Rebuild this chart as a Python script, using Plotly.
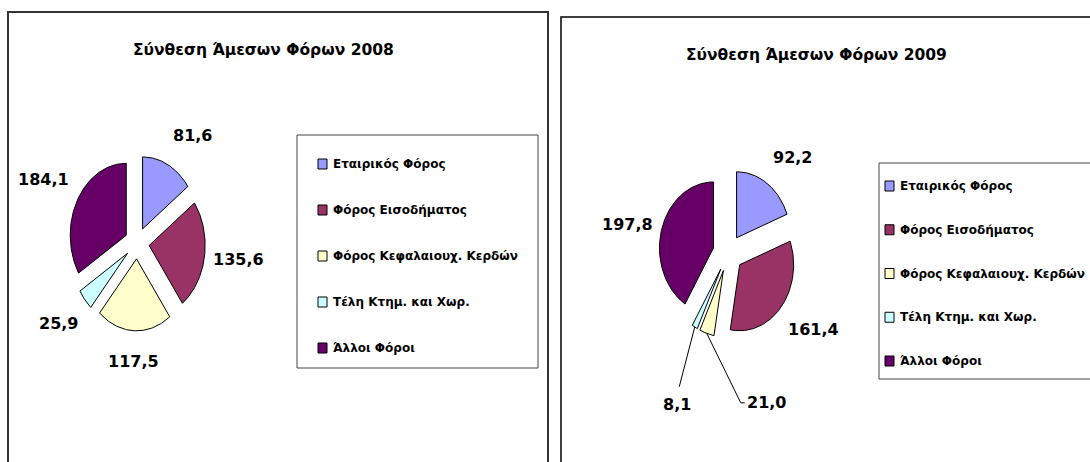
import numpy as np
import plotly.graph_objects as go

# ---------------- data ----------------
categories = ["Εταιρικός Φόρος", "Φόρος Εισοδήματος", "Φόρος Κεφαλαιουχ. Κερδών",
              "Τέλη Κτημ. και Χωρ.", "Άλλοι Φόροι"]
values_2008 = [81.6, 135.6, 117.5, 25.9, 184.1]
values_2009 = [92.2, 161.4, 21.0, 8.1, 197.8]
titles = ["Σύνθεση Άμεσων Φόρων 2008", "Σύνθεση Άμεσων Φόρων 2009"]

# ---------------- style ----------------
colors = ["#9999FF", "#993366", "#FFFFCC", "#CCFFFF", "#660066"]
FONT = "DejaVu Sans"
W, H = 1090, 462

panels = [
    dict(values=values_2008, title=titles[0], title_xy=(263, 50),
         center=(137, 243), rx=56, ry=72, pull=0.22,
         border=(8, 12, 548, 475), border_w=2, border_c="#333333",
         legend_box=(297, 135, 538, 368), legend_x=318, legend_y=(164, 348),
         small_labels={}),
    dict(values=values_2009, title=titles[1], title_xy=(816, 55),
         center=(728, 253), rx=54, ry=66, pull=0.28,
         border=(561, 17, 1100, 475), border_w=1.5, border_c="#000000",
         legend_box=(879, 163, 1100, 379), legend_x=885, legend_y=(186, 361),
         small_labels={2: (0.31, 2.27), 3: (-0.94, 2.3)}),
]
GAP_X, GAP_Y = 0.12, 0.27


def fmt(v):
    return f"{v:.1f}".replace(".", ",")


fig = go.Figure()
shapes = []
annotations = []

for p in panels:
    vals = np.array(p["values"], dtype=float)
    cx, cy = p["center"]
    rx, ry, pull = p["rx"], p["ry"], p["pull"]
    bounds = np.concatenate([[0], np.cumsum(vals) / vals.sum() * 360.0])

    # panel border
    x0, y0, x1, y1 = p["border"]
    shapes.append(dict(type="rect", xref="x", yref="y", x0=x0, y0=y0, x1=x1, y1=y1,
                       line=dict(color=p["border_c"], width=p["border_w"]),
                       fillcolor="rgba(0,0,0,0)", layer="below"))
    # title
    annotations.append(dict(x=p["title_xy"][0], y=p["title_xy"][1], xref="x", yref="y",
                            text=p["title"], showarrow=False,
                            font=dict(family=FONT, size=15.5, color="black", weight="bold"),
                            xanchor="center", yanchor="middle"))

    for i, v in enumerate(vals):
        a0, a1 = np.radians(bounds[i]), np.radians(bounds[i + 1])
        mid = (a0 + a1) / 2
        vx = cx + pull * rx * np.sin(mid)
        vy = cy - pull * ry * np.cos(mid)
        t = np.linspace(a0, a1, max(4, int(np.degrees(a1 - a0)) + 2))
        xs = np.concatenate([[vx], vx + rx * np.sin(t), [vx]])
        ys = np.concatenate([[vy], vy - ry * np.cos(t), [vy]])
        fig.add_trace(go.Scatter(x=xs, y=ys, mode="lines", fill="toself",
                                 fillcolor=colors[i], line=dict(color="black", width=1),
                                 showlegend=False, hoverinfo="skip", name=categories[i]))

        dx, dy = np.sin(mid), -np.cos(mid)
        lab_font = dict(family=FONT, size=16, color="black", weight="bold")
        if i in p["small_labels"]:
            ox, oy = p["small_labels"][i]
            lx, ly = cx + ox * rx, cy + oy * ry
            ex = vx + rx * dx
            ey = vy + ry * dy
            if ox > 0:
                annotations.append(dict(x=lx, y=ly, xref="x", yref="y", text=fmt(v),
                                        showarrow=False, font=lab_font,
                                        xanchor="left", yanchor="middle"))
                lxs = [ex, lx - 4, lx]
                lys = [ey, ly, ly]
            else:
                annotations.append(dict(x=lx, y=ly, xref="x", yref="y", text=fmt(v),
                                        showarrow=False, font=lab_font,
                                        xanchor="center", yanchor="middle"))
                lxs = [ex, lx + 2]
                lys = [ey, ly - 18]
            fig.add_trace(go.Scatter(x=lxs, y=lys, mode="lines",
                                     line=dict(color="black", width=1),
                                     showlegend=False, hoverinfo="skip"))
        else:
            lx = cx + (1 + pull + GAP_X) * rx * dx
            ly = cy + (1 + pull + GAP_Y) * ry * dy
            xa = "left" if dx > 0.3 else ("right" if dx < -0.3 else "center")
            ya = "bottom" if dy < -0.3 else ("top" if dy > 0.3 else "middle")
            annotations.append(dict(x=lx, y=ly, xref="x", yref="y", text=fmt(v),
                                    showarrow=False, font=lab_font,
                                    xanchor=xa, yanchor=ya))

    # legend box
    bx0, by0, bx1, by1 = p["legend_box"]
    shapes.append(dict(type="rect", xref="x", yref="y", x0=bx0, y0=by0, x1=bx1, y1=by1,
                       line=dict(color="#444444", width=1), fillcolor="white", layer="below"))
    ys_leg = np.linspace(p["legend_y"][0], p["legend_y"][1], len(categories))
    for i, cat in enumerate(categories):
        sx = p["legend_x"]
        shapes.append(dict(type="rect", xref="x", yref="y", x0=sx, y0=ys_leg[i] - 5,
                           x1=sx + 9, y1=ys_leg[i] + 5,
                           line=dict(color="black", width=1), fillcolor=colors[i]))
        annotations.append(dict(x=sx + 13, y=ys_leg[i], xref="x", yref="y", text=cat,
                                showarrow=False, xanchor="left", yanchor="middle",
                                font=dict(family=FONT, size=12, color="black", weight="bold")))

fig.update_layout(
    width=W, height=H,
    margin=dict(l=0, r=0, t=0, b=0),
    paper_bgcolor="white", plot_bgcolor="white",
    xaxis=dict(range=[0, W], visible=False, fixedrange=True),
    yaxis=dict(range=[H, 0], visible=False, fixedrange=True),
    shapes=shapes, annotations=annotations,
    showlegend=False,
)

fig.write_html("out.html", config={"displayModeBar": False},
               post_script="document.body.style.margin='0';document.body.style.overflow='hidden';")
